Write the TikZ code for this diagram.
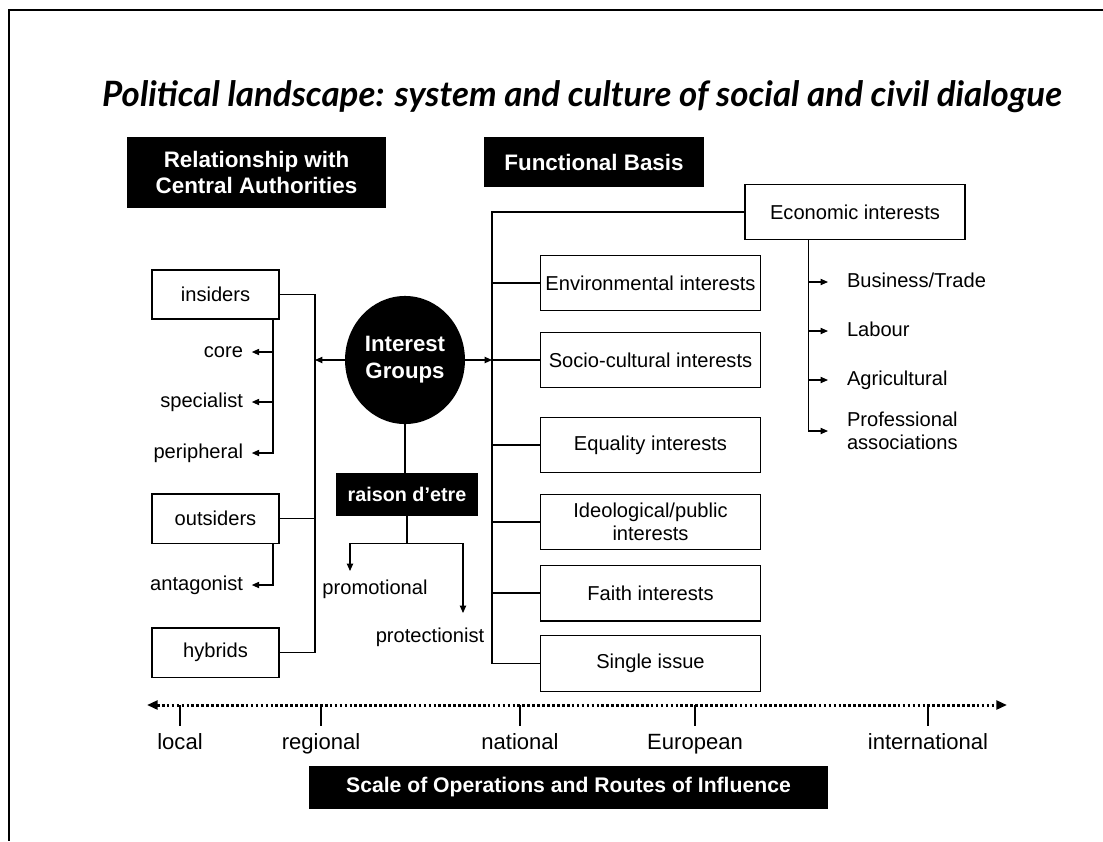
\documentclass[tikz,border=0pt]{standalone}
\usepackage{graphicx}
\usepackage{fontspec}
\setmainfont{Liberation Sans}
\newfontfamily\titlefont{Lato}
\usetikzlibrary{arrows.meta,shapes.geometric}

\begin{document}
\begin{tikzpicture}[x=0.5669pt,y=-0.5669pt,
  every node/.style={inner sep=0pt,outer sep=0pt},
  lbl/.style={font=\fontsize{11.4}{13}\selectfont},
  onelbl/.style={lbl,text height=8.2pt,text depth=2.4pt},
  axlbl/.style={font=\fontsize{12.5}{14}\selectfont,anchor=base},
  wbox/.style={draw,line width=0.6pt,minimum height=31.7pt,align=center,
    font=\fontsize{11.4}{13}\selectfont},
  sidebox/.style={wbox,minimum width=72pt,minimum height=27.8pt},
  intbox/.style={wbox,minimum width=124.2pt},
  blackbox/.style={fill=black,text=white,align=center,
    font=\bfseries\fontsize{12.7}{14.2}\selectfont},
  conn/.style={line width=0.6pt},
  arr/.style={conn,-{Triangle[length=4.2pt,width=3.6pt]}},
  tickline/.style={line width=1.1pt},
  axisline/.style={line width=1.7pt,dash pattern=on 1.5pt off 1.3pt,
    {Triangle[length=6pt,width=5pt]}-{Triangle[length=6pt,width=5pt]}}
]
\useasboundingbox (0,0) rectangle (1103,841);

% page frame
\draw[line width=1.2pt,line join=miter] (1103,10) -- (9,10) -- (9,841);

% title
\node (title) at (582,97) {\resizebox{544pt}{!}{\titlefont\bfseries\itshape Political landscape: system and culture of social and civil dialogue}};

% headings
\node[blackbox,minimum width=146.8pt,minimum height=40.3pt] (rel) at (256.5,172.5)
  {Relationship with\\Central Authorities};
\node[blackbox,minimum width=124.7pt,minimum height=28.3pt] (func) at (594,162)
  {Functional Basis};
\node[blackbox,minimum width=294.2pt,minimum height=24.4pt,
  font=\bfseries\fontsize{12}{14}\selectfont] (scale) at (568.5,787.5)
  {Scale of Operations and Routes of Influence};

% centre
\node[ellipse,fill=black,text=white,minimum width=68pt,minimum height=72.6pt,
  align=center,font=\bfseries\fontsize{12.6}{15.3}\selectfont] (ig) at (405,360)
  {Interest\\Groups};
\node[blackbox,minimum width=80.5pt,minimum height=24.4pt,
  font=\bfseries\fontsize{11.2}{13}\selectfont] (raison) at (407,494.5) {raison d’etre};

% relationship branch
\node[sidebox] (ins) at (215.5,294.5) {insiders};
\node[sidebox] (outs) at (215.5,518.5) {outsiders};
\node[sidebox] (hyb) at (215.5,652.5) {hybrids};

\node[onelbl,anchor=east] (core) at (243,352) {core};
\node[onelbl,anchor=east] (spec) at (243,402) {specialist};
\node[onelbl,anchor=east] (peri) at (243,453) {peripheral};
\node[onelbl,anchor=east] (anta) at (243,585) {antagonist};

\draw[conn] (ins.east) -- ++(36,0) coordinate (ltop) |- (hyb.east);
\draw[conn] (outs.east) -- (outs.east -| ltop);
\draw[arr] (ig.west) -- (ig.west -| ltop);

\coordinate (ib) at ([xshift=-3.4pt]ins.south east);
\draw[arr,shorten >=5pt] (ib) |- (peri.east);
\draw[arr,shorten >=5pt] (ib |- core.east) -- (core.east);
\draw[arr,shorten >=5pt] (ib |- spec.east) -- (spec.east);
\coordinate (ob) at ([xshift=-3.4pt]outs.south east);
\draw[arr,shorten >=5pt] (ob) |- (anta.east);

% raison d'etre branch
\node[onelbl] (promo) at (375,589) {promotional};
\node[onelbl] (prot) at (430,637) {protectionist};
\draw[conn] (ig.south) -- (ig.south |- raison.north);
\draw[conn] (raison.south) -- ++(0,27) coordinate (rs);
\coordinate (pmtip) at (350,571);
\coordinate (pttip) at (463,613);
\draw[arr] (rs) -| (pmtip);
\draw[arr] (rs) -| (pttip);

% functional basis branch
\node[wbox,minimum width=124.7pt] (econ) at (855,212) {Economic interests};
\node[intbox] (env) at (650.5,283) {Environmental interests};
\node[intbox] (soc) at (650.5,360) {Socio-cultural interests};
\node[intbox] (equ) at (650.5,445) {Equality interests};
\node[intbox] (ideo) at (650.5,522) {Ideological/public\\interests};
\node[intbox] (faith) at (650.5,593) {Faith interests};
\node[intbox] (single) at (650.5,663.5) {Single issue};

\draw[conn] (econ.west) -- ++(-253,0) coordinate (rtop) |- (single.west);
\foreach \b in {env,soc,equ,ideo,faith}
  \draw[conn] (\b.west) -- (\b.west -| rtop);
\draw[arr] (ig.east) -- (ig.east -| rtop);

\node[onelbl,anchor=west] (biz) at (847,282) {Business/Trade};
\node[onelbl,anchor=west] (lab) at (847,331) {Labour};
\node[onelbl,anchor=west] (agr) at (847,380) {Agricultural};
\node[lbl,anchor=west,align=left] (prof) at (847,431) {Professional\\associations};

\coordinate (eb) at ([xshift=-26.1pt]econ.south);
\draw[arr,shorten >=10.8pt] (eb) |- (prof.west);
\foreach \l in {biz,lab,agr}
  \draw[arr,shorten >=10.8pt] (eb |- \l.west) -- (\l.west);

% scale axis
\coordinate (axL) at (147,705);
\coordinate (axR) at (1007,705);
\draw[axisline] (axL) -- (axR);
\foreach \x/\t/\n in {180/local/lloc,321/regional/lreg,520/national/lnat,695/European/leur,928/international/lint}{
  \coordinate (tk\n) at (\x,705);
  \draw[tickline] (tk\n) -- ++(0,21);
  \node[axlbl] (\n) at (\x,749) {\t};
}
\end{tikzpicture}
\end{document}
